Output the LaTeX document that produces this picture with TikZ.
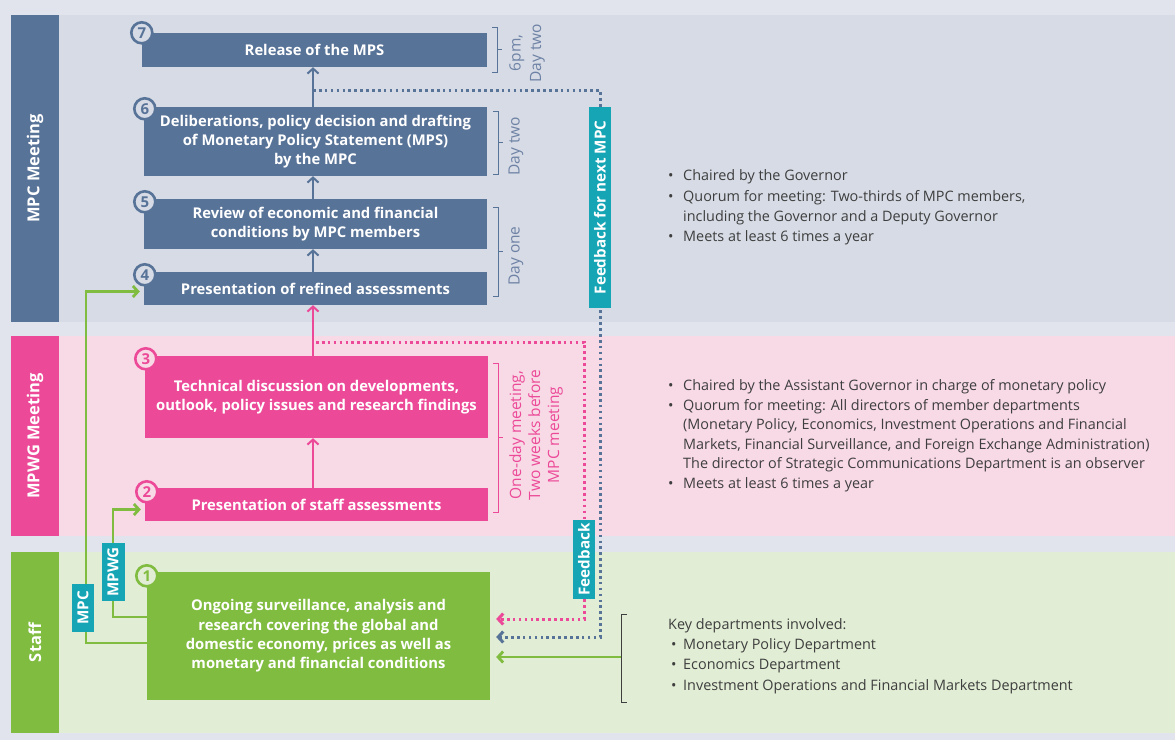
\documentclass[tikz,border=0pt]{standalone}
\usepackage{fontspec}
\setmainfont{Open Sans}
\usetikzlibrary{arrows.meta}
\definecolor{mpcblue}{RGB}{88,115,152}
\definecolor{mpwgpink}{RGB}{236,74,152}
\definecolor{staffgreen}{RGB}{128,188,64}
\definecolor{fbteal}{RGB}{22,165,180}
\definecolor{outerbg}{RGB}{225,228,236}
\definecolor{mpcband}{RGB}{214,219,229}
\definecolor{mpwgband}{RGB}{248,217,230}
\definecolor{staffband}{RGB}{225,237,212}
\definecolor{bodytext}{RGB}{62,62,62}
\definecolor{sidetext}{RGB}{110,130,165}

\begin{document}
\begin{tikzpicture}[x=1pt,y=-1pt,
    box/.style={fill=#1, text=white, font=\bfseries\fontsize{14.8}{19.3}\selectfont, align=center, inner sep=0pt, minimum width=343pt},
    num/.style={circle, draw=#1, line width=2.6pt, text=#1, minimum size=21pt, inner sep=0pt, font=\bfseries\fontsize{15}{15}\selectfont},
    bar/.style={fill=#1, text=white, rotate=90, minimum height=48pt, inner sep=0pt, font=\bfseries\fontsize{16.5}{16.5}\selectfont},
    tag/.style={fill=fbteal, text=white, rotate=90, minimum height=22pt, inner sep=0pt, font=\bfseries\fontsize{15.2}{15.2}\selectfont},
    up/.style={draw=#1, line width=2pt, -{Straight Barb[length=5pt,width=11pt]}},
    gline/.style={draw=staffgreen, line width=2.8pt, -{Straight Barb[length=5pt,width=11pt]}, shorten >=4pt},
    dotline/.style={draw=#1, line width=3pt, dash pattern=on 2.6pt off 3.3pt, -{Straight Barb[length=5pt,width=11pt]}, shorten >=6pt},
    sidebrace/.style={draw=#1, line width=1pt},
    sidenote/.style={text=#1, rotate=90, align=center, font=\fontsize{15.5}{20.5}\selectfont},
    notes/.style={text=bodytext, anchor=west, align=left, inner sep=0pt, font=\fontsize{14.4}{20.2}\selectfont}]

    \fill [outerbg] (0,0) rectangle (1175,740);
    \fill [mpcband] (11,15) rectangle (1175,322);
    \fill [mpwgband] (11,336) rectangle (1175,536);
    \fill [staffband] (11,552) rectangle (1175,733);

    \node [bar=mpcblue, minimum width=307pt] (lmpc) at (35,168.5) {MPC Meeting};
    \node [bar=mpwgpink, minimum width=200pt] (lmpwg) at (35,436) {MPWG Meeting};
    \node [bar=staffgreen, minimum width=181pt] (lstaff) at (35,642.5) {Staff};

    \node [box=mpcblue, minimum width=345pt, minimum height=34pt] (b7) at (314.5,50) {Release of the MPS};
    \node [box=mpcblue, minimum height=69pt] (b6) at (315.5,141.5) {Deliberations, policy decision and drafting\\of Monetary Policy Statement (MPS)\\by the MPC};
    \node [box=mpcblue, minimum height=50pt] (b5) at (315.5,224) {Review of economic and financial\\conditions by MPC members};
    \node [box=mpcblue, minimum height=33pt] (b4) at (315.5,288.5) {Presentation of refined assessments};
    \node [box=mpwgpink, minimum height=82pt] (b3) at (316.5,397) {Technical discussion on developments,\\outlook, policy issues and research findings};
    \node [box=mpwgpink, minimum height=33pt] (b2) at (316.5,504.5) {Presentation of staff assessments};
    \node [box=staffgreen, minimum height=128pt] (b1) at (318.5,636) {Ongoing surveillance, analysis and\\research covering the global and\\domestic economy, prices as well as\\monetary and financial conditions};

    \node [num=mpcblue, fill=mpcband] (n7) at (b7.north west) {7};
    \node [num=mpcblue, fill=mpcband] (n6) at ([xshift=1pt,yshift=-2pt]b6.north west) {6};
    \node [num=mpcblue, fill=mpcband] (n5) at ([xshift=1pt,yshift=-3pt]b5.north west) {5};
    \node [num=mpcblue, fill=mpcband] (n4) at ([xshift=1pt,yshift=-3pt]b4.north west) {4};
    \node [num=mpwgpink, fill=mpwgband] (n3) at ([xshift=1pt,yshift=-3pt]b3.north west) {3};
    \node [num=mpwgpink, fill=mpwgband] (n2) at ([xshift=2pt,yshift=-4pt]b2.north west) {2};
    \node [num=staffgreen, fill=staffband] (n1) at ([yshift=-4pt]b1.north west) {1};

    \coordinate (ax) at (313,0);
    \draw [up=mpcblue] (b6.north -| ax) -- (b7.south -| ax);
    \draw [up=mpcblue] (b5.north -| ax) -- (b6.south -| ax);
    \draw [up=mpcblue] (b4.north -| ax) -- (b5.south -| ax);
    \draw [up=mpwgpink] (b3.north -| ax) -- (b4.south -| ax);
    \draw [up=mpwgpink] (b2.north -| ax) -- (b3.south -| ax);

    \coordinate (fbtop) at (313,90);
    \coordinate (fbright) at (600,90);
    \coordinate (fbbot) at (600,637);
    \draw [dotline=mpcblue] (fbtop) -- (fbright) -- (fbbot) -- (b1.east |- fbbot);
    \coordinate (pktop) at (316,342);
    \coordinate (pkright) at (584,342);
    \coordinate (pkbot) at (584,619);
    \draw [dotline=mpwgpink] (pktop) -- (pkright) -- (pkbot) -- (b1.east |- pkbot);
    \node [tag, minimum width=201pt] (fbnext) at (600,207.5) {Feedback for next MPC};
    \node [tag, minimum width=79pt] (fbmpwg) at (584,559.5) {Feedback};

    \coordinate (mpcx) at (86,643);
    \coordinate (mpwgx) at (113,617);
    \draw [gline] (b1.west |- mpcx) -- (mpcx) |- ([yshift=-3pt]b4.west);
    \draw [gline] (b1.west |- mpwgx) -- (mpwgx) |- ([yshift=-5pt]b2.west);
    \node [tag, minimum width=48pt] (tmpc) at (83,608) {MPC};
    \node [tag, minimum width=58pt, minimum height=23pt] (tmpwg) at (113,572) {MPWG};

    \draw [sidebrace=mpcblue] (492,27) -- (497,27) -- (497,72) -- (492,72) (497,49.5) -- (502,49.5);
    \node [sidenote=sidetext] (s7) at (527,53) {6pm,\\Day two};
    \draw [sidebrace=mpcblue] (493,111) -- (498,111) -- (498,174) -- (493,174) (498,142.5) -- (503,142.5);
    \node [sidenote=sidetext] (s6) at (516,146) {Day two};
    \draw [sidebrace=mpcblue] (493,207) -- (498,207) -- (498,296) -- (493,296) (498,251.5) -- (503,251.5);
    \node [sidenote=sidetext] (s45) at (516,256) {Day one};
    \draw [sidebrace=mpwgpink] (493,363) -- (498,363) -- (498,512) -- (493,512) (498,437) -- (503,437);
    \node [sidenote=mpwgpink, font=\fontsize{15.5}{19}\selectfont] (s23) at (536,435) {One-day meeting,\\Two weeks before\\MPC meeting};

    \coordinate (keyb) at (621,657);
    \draw [bodytext, line width=0.9pt] (627,614) -- (621,614) -- (621,702) -- (627,702) (621,657) -- (617,657);
    \draw [gline, shorten >=6pt] (keyb) -- (b1.east |- keyb);

    \node [notes] (tmpcnote) at (668,207.5) {\makebox[15pt][l]{•}Chaired by the Governor\\
        \makebox[15pt][l]{•}Quorum for meeting: Two-thirds of MPC members,\\
        \hspace*{15pt}including the Governor and a Deputy Governor\\
        \makebox[15pt][l]{•}Meets at least 6 times a year};
    \node [notes, font=\fontsize{14.4}{19.5}\selectfont] (tmpwgnote) at (668,435.5) {\makebox[15pt][l]{•}Chaired by the Assistant Governor in charge of monetary policy\\
        \makebox[15pt][l]{•}Quorum for meeting: All directors of member departments\\
        \hspace*{15pt}(Monetary Policy, Economics, Investment Operations and Financial\\
        \hspace*{15pt}Markets, Financial Surveillance, and Foreign Exchange Administration)\\
        \hspace*{15pt}The director of Strategic Communications Department is an observer\\
        \makebox[15pt][l]{•}Meets at least 6 times a year};
    \node [notes] (tstaffnote) at (668,656) {Key departments involved:\\
        \hspace*{3pt}\makebox[12pt][l]{•}Monetary Policy Department\\
        \hspace*{3pt}\makebox[12pt][l]{•}Economics Department\\
        \hspace*{3pt}\makebox[12pt][l]{•}Investment Operations and Financial Markets Department};
\end{tikzpicture}
\end{document}
